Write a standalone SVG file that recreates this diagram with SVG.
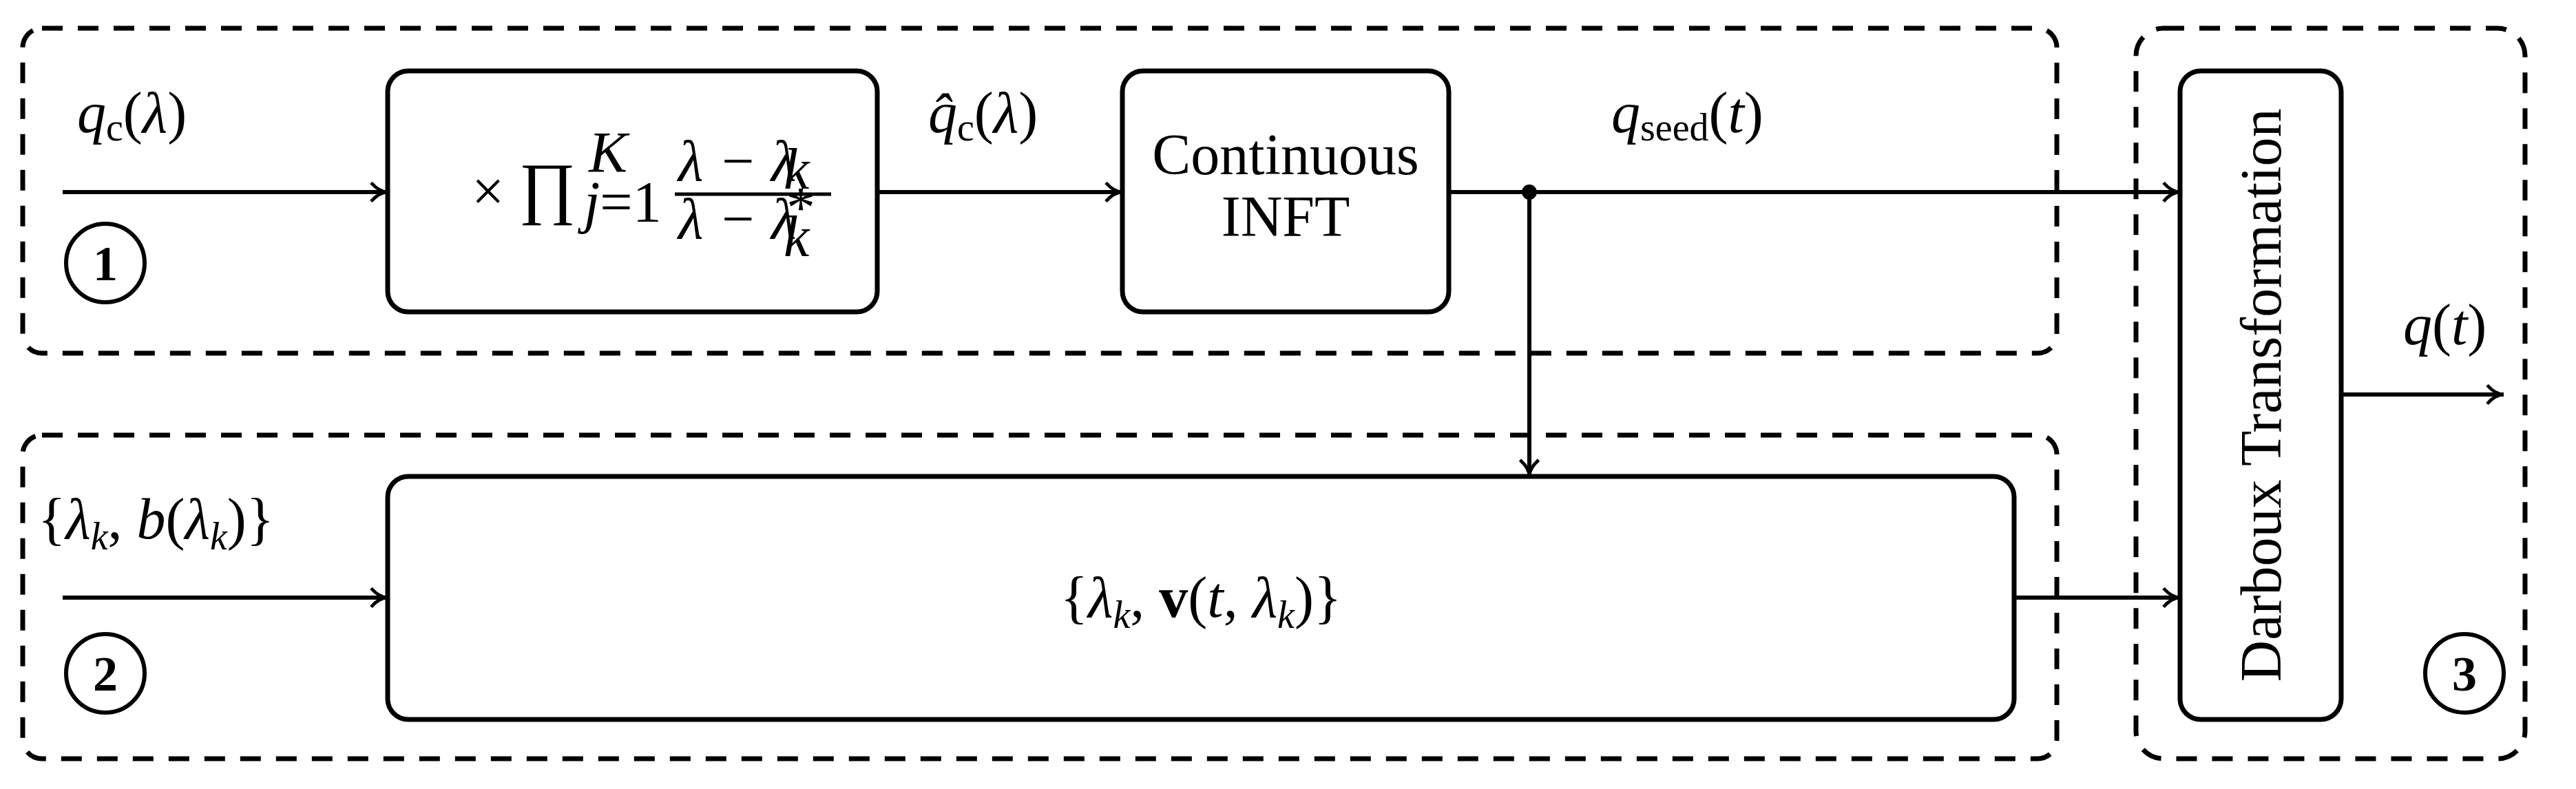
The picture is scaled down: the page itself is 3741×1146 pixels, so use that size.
<svg xmlns="http://www.w3.org/2000/svg" width="3741" height="1146" viewBox="0 0 3741 1146">
<style>
.grp{fill:none;stroke:#000;stroke-width:7;stroke-dasharray:30 22}
.box{fill:#fff;stroke:#000;stroke-width:7}
.ln{fill:none;stroke:#000;stroke-width:6}
.t{font-family:"Liberation Serif",serif;font-size:84px;fill:#000}
.i{font-style:italic}
.c{fill:none;stroke:#000;stroke-width:6}
.n{font-family:"Liberation Serif",serif;font-size:72px;font-weight:bold;text-anchor:middle}
</style>
<defs>
<marker id="a" viewBox="0 0 10 10" refX="9" refY="5" markerWidth="5" markerHeight="5" orient="auto" markerUnits="strokeWidth">
<path d="M1,0.5 Q5,5 9,5 Q5,5 1,9.5" fill="none" stroke="#000" stroke-width="1.6"/>
</marker>
</defs>
<g id="group1"><rect class="grp" x="33" y="41" width="2954" height="472" rx="28"/>
<circle class="c" cx="153" cy="382" r="57"/><text class="n" x="153" y="407">1</text></g>
<g id="group2"><rect class="grp" x="33" y="632" width="2954" height="470" rx="28"/>
<circle class="c" cx="153" cy="978" r="57"/><text class="n" x="153" y="1003">2</text></g>
<g id="group3"><rect class="grp" x="3102" y="41" width="565" height="1061" rx="40"/>
<circle class="c" cx="3579" cy="978" r="57"/><text class="n" x="3579" y="1003">3</text></g>
<g id="connectors">
<line class="ln" x1="91" y1="279" x2="563" y2="279" marker-end="url(#a)"/>
<line class="ln" x1="1274" y1="279" x2="1630" y2="279" marker-end="url(#a)"/>
<line class="ln" x1="2104" y1="279" x2="3166" y2="279" marker-end="url(#a)"/>
<line class="ln" x1="2221" y1="279" x2="2221" y2="692" marker-end="url(#a)"/>
<circle cx="2221" cy="279" r="11"/>
<line class="ln" x1="91" y1="868" x2="563" y2="868" marker-end="url(#a)"/>
<line class="ln" x1="2925" y1="868" x2="3166" y2="868" marker-end="url(#a)"/>
<line class="ln" x1="3400" y1="573" x2="3636" y2="573" marker-end="url(#a)"/>
</g>
<g id="product"><rect class="box" x="563" y="103" width="711" height="350" rx="30"/>
<text class="t" x="685" y="306">× <tspan font-size="100">∏</tspan></text>
<text class="t i" x="855" y="250" font-size="56">K</text>
<text class="t" x="848" y="322" font-size="56"><tspan class="i">j</tspan>=1</text>
<text class="t i" x="985" y="262" font-size="72">λ − λ</text>
<text class="t i" x="1138" y="274" font-size="46">k</text>
<line x1="980" y1="282" x2="1207" y2="282" stroke="#000" stroke-width="5"/>
<text class="t i" x="985" y="346" font-size="72">λ − λ</text>
<text class="t i" x="1138" y="330" font-size="46">*</text>
<text class="t i" x="1138" y="372" font-size="46">k</text></g>
<g id="inft"><rect class="box" x="1630" y="103" width="474" height="350" rx="30"/>
<text class="t" x="1867" y="253" text-anchor="middle">Continuous</text>
<text class="t" x="1867" y="343" text-anchor="middle">INFT</text></g>
<g id="vbox"><rect class="box" x="563" y="692" width="2362" height="353" rx="30"/>
<text class="t" x="1744" y="896" text-anchor="middle">{<tspan class="i">λ</tspan><tspan font-size="56" class="i" dy="16">k</tspan><tspan dy="-16">, </tspan><tspan font-weight="bold">v</tspan>(<tspan class="i">t</tspan>, <tspan class="i">λ</tspan><tspan font-size="56" class="i" dy="16">k</tspan><tspan dy="-16">)}</tspan></text></g>
<g id="darboux"><rect class="box" x="3166" y="103" width="234" height="942" rx="30"/>
<text class="t" transform="translate(3312,574) rotate(-90)" text-anchor="middle">Darboux Transformation</text></g>
<g id="labels">
<text class="t" x="112" y="192"><tspan class="i">q</tspan><tspan font-size="56" dy="12">c</tspan><tspan dy="-12">(</tspan><tspan class="i">λ</tspan>)</text>
<text class="t" x="1348" y="192"><tspan class="i">q̂</tspan><tspan font-size="56" dy="12">c</tspan><tspan dy="-12">(</tspan><tspan class="i">λ</tspan>)</text>
<text class="t" x="2340" y="192"><tspan class="i">q</tspan><tspan font-size="56" dy="12">seed</tspan><tspan dy="-12">(</tspan><tspan class="i">t</tspan>)</text>
<text class="t" x="55" y="782">{<tspan class="i">λ</tspan><tspan font-size="56" class="i" dy="16">k</tspan><tspan dy="-16">, </tspan><tspan class="i">b</tspan>(<tspan class="i">λ</tspan><tspan font-size="56" class="i" dy="16">k</tspan><tspan dy="-16">)}</tspan></text>
<text class="t" x="3490" y="500"><tspan class="i">q</tspan>(<tspan class="i">t</tspan>)</text>
</g>
</svg>
